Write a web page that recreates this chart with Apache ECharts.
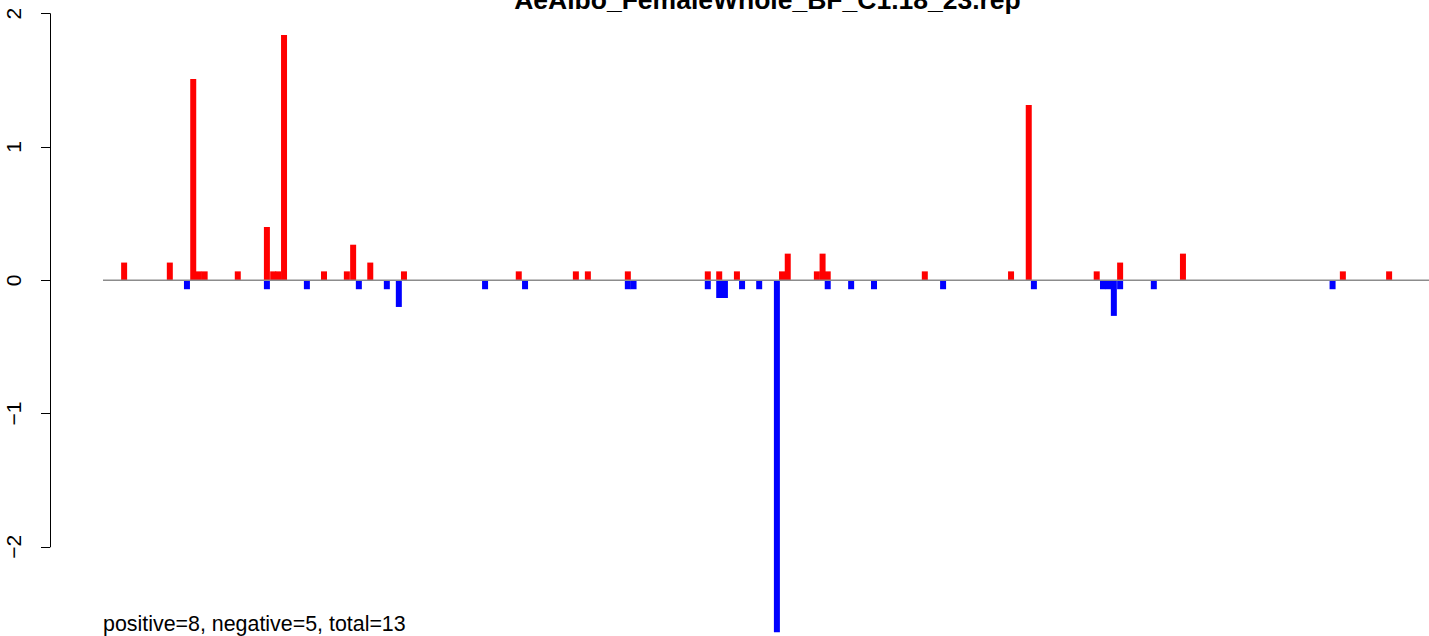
<!DOCTYPE html>
<html>
<head>
<meta charset="utf-8">
<script src="https://cdn.jsdelivr.net/npm/echarts@6/dist/echarts.min.js"></script>
<style>
html,body{margin:0;padding:0;background:#ffffff;}
#chart{width:1429px;height:636px;}
</style>
</head>
<body>
<div id="chart"></div>
<script>
// ---------- data ----------
const TITLE = 'AeAlbo_FemaleWhole_BF_C1.18_23.rep';
const SUMMARY = 'positive=8, negative=5, total=13';

// positions (bin units) and values of positive (red) bars
const posX = [3.7, 11.7, 15.8, 16.8, 17.8, 23.6, 28.7, 29.8, 30.7, 31.7, 38.7, 42.7, 43.8, 46.8, 52.7,
              72.8, 82.8, 84.9, 91.9, 105.9, 107.9, 111.0, 118.9, 119.9, 125.0, 126.0, 126.9,
              143.9, 159.0, 162.1, 174.0, 178.1, 189.1, 217.1, 225.2];
const posY = [0.133, 0.133, 1.51, 0.067, 0.067, 0.067, 0.4, 0.067, 0.067, 1.84, 0.067, 0.067, 0.267, 0.133, 0.067,
              0.067, 0.067, 0.067, 0.067, 0.067, 0.067, 0.067, 0.067, 0.2, 0.067, 0.2, 0.067,
              0.067, 0.067, 1.315, 0.067, 0.133, 0.2, 0.067, 0.067];

// positions and values of negative (blue) bars
const negX = [14.7, 28.7, 35.7, 44.8, 49.7, 51.8, 66.9, 73.9, 91.9, 92.9, 105.9, 107.9, 108.9, 111.9, 114.9,
              118.0, 126.9, 131.0, 135.0, 147.1, 163.0, 175.1, 176.1, 177.0, 178.1, 184.0, 215.3];
const negY = [-0.067, -0.067, -0.067, -0.067, -0.067, -0.2, -0.067, -0.067, -0.067, -0.067, -0.067, -0.133, -0.133, -0.067, -0.067,
              -2.64, -0.067, -0.067, -0.067, -0.067, -0.067, -0.067, -0.067, -0.267, -0.067, -0.067, -0.067];

const yTickValues = [-2, -1, 0, 1, 2];
const RANGE_START = 0;     // first bin of the scanned range
const RANGE_END = 232;     // last bin of the scanned range

// ---------- layout ----------
const W = 1429;
const PLOT_LEFT = 50;
const BIN_PX = 5.711;
const ZERO_Y = 280.3;
const PX_PER_UNIT = 133.3;
const Y_MAX = 2, Y_MIN = -2.65;
const pad = 0.04 * (RANGE_END - RANGE_START);
const X_MIN = RANGE_START - pad;
const X_MAX = X_MIN + (W - PLOT_LEFT) / BIN_PX;
const PLOT_CENTER = PLOT_LEFT + ((RANGE_END - RANGE_START) + 2 * pad) * BIN_PX / 2;

const chart = echarts.init(document.getElementById('chart'), null, {renderer: 'svg'});

const pts = (xs, ys) => xs.map((x, i) => [x, ys[i]]);

const option = {
  animation: false,
  backgroundColor: '#ffffff',
  grid: [
    { left: PLOT_LEFT, right: 0, top: ZERO_Y - Y_MAX * PX_PER_UNIT,
      height: (Y_MAX - Y_MIN) * PX_PER_UNIT, containLabel: false },
    { left: PLOT_LEFT, width: 1, top: ZERO_Y - 2 * PX_PER_UNIT,
      height: 4 * PX_PER_UNIT, containLabel: false }
  ],
  xAxis: [
    { type: 'value', gridIndex: 0, min: X_MIN, max: X_MAX, show: false },
    { type: 'value', gridIndex: 1, min: 0, max: 1, show: false }
  ],
  yAxis: [
    { type: 'value', gridIndex: 0, min: Y_MIN, max: Y_MAX, show: false },
    { type: 'value', gridIndex: 1, min: yTickValues[0], max: yTickValues[yTickValues.length - 1], interval: 1,
      position: 'left',
      axisLine: { show: true, onZero: false, lineStyle: { color: '#000', width: 1 } },
      axisTick: { show: true, length: 9, lineStyle: { color: '#000', width: 1 } },
      splitLine: { show: false },
      axisLabel: { show: true, rotate: 90, margin: 26, color: '#000',
        fontFamily: 'Liberation Sans, Arial, sans-serif', fontSize: 21,
        formatter: v => String(v).replace('-', '\u2212') }
    }
  ],
  series: [
    { type: 'bar', name: 'positive', xAxisIndex: 0, yAxisIndex: 0, data: pts(posX, posY),
      barWidth: 6, barGap: '-100%', itemStyle: { color: '#ff0000' }, silent: true, z: 2 },
    { type: 'bar', name: 'negative', xAxisIndex: 0, yAxisIndex: 0, data: pts(negX, negY),
      barWidth: 6, barGap: '-100%', itemStyle: { color: '#0000ff' }, silent: true, z: 2 },
    { type: 'line', name: 'baseline', xAxisIndex: 0, yAxisIndex: 0,
      data: [[RANGE_START, 0], [X_MAX, 0]], symbol: 'none', silent: true, z: 3,
      lineStyle: { color: '#8c8c8c', width: 1.4 } }
  ]
};
chart.setOption(option);

const startPx = chart.convertToPixel({gridIndex: 0}, [RANGE_START, 0]);
chart.setOption({
  graphic: [
    { type: 'text', x: PLOT_CENTER + 2, y: -0.5, silent: true,
      style: { text: TITLE, fill: '#000', font: 'bold 26.5px "Liberation Sans", Arial, sans-serif',
               textAlign: 'center', textVerticalAlign: 'middle' } },
    { type: 'text', x: startPx[0], y: 624, silent: true,
      style: { text: SUMMARY, fill: '#000', font: '21.4px "Liberation Sans", Arial, sans-serif',
               textAlign: 'left', textVerticalAlign: 'middle' } }
  ]
});
</script>
</body>
</html>
